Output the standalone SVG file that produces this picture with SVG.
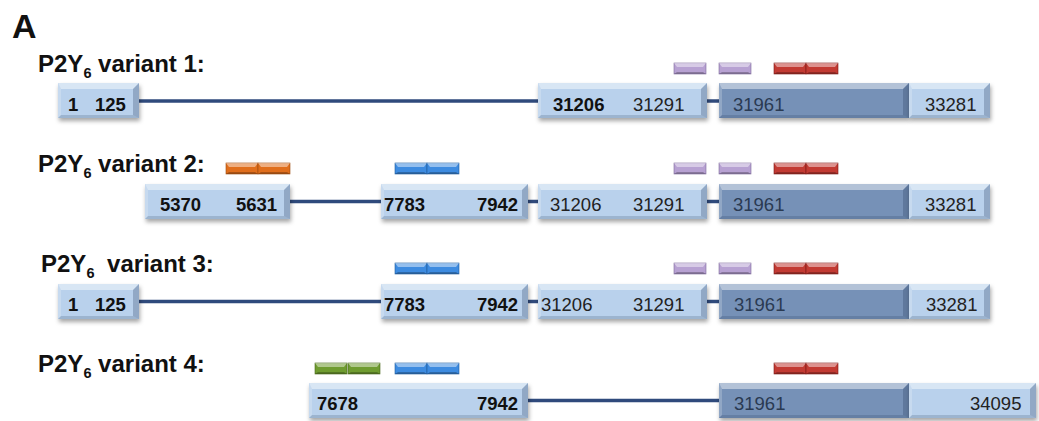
<svg xmlns="http://www.w3.org/2000/svg" xmlns:xlink="http://www.w3.org/1999/xlink" width="1039" height="421" viewBox="0 0 1039 421">
<style>
.lt{fill:#b9d1ec}
.dk{fill:#7691b7}
.bt{fill:#ffffff;fill-opacity:.45}
.bl{fill:#ffffff;fill-opacity:.2}
.br{fill:#1a3050;fill-opacity:.25}
.bb{fill:#1a3050;fill-opacity:.18}
.sh{filter:url(#shadow)}
.conn{stroke:#2f4a7c;stroke-width:3.5;fill:none}
.lab{font-family:"Liberation Sans",Arial,sans-serif;font-weight:bold;font-size:24px;fill:#111}
.sub{font-size:14.5px}
.num{font-family:"Liberation Sans",Arial,sans-serif;font-size:18.5px;fill:#222}
.bold{font-weight:bold;fill:#111}
.ondk{fill:#2a3a52}
.hl{fill:#ffffff;fill-opacity:.45}
.lo{fill:#000000;fill-opacity:.25}
.fP{fill:#b7a1d2;stroke:#7e6a99;stroke-width:.6}
.fR{fill:#c23a33;stroke:#7a1a17;stroke-width:.6}
.fO{fill:#e06e1c;stroke:#9c4a10;stroke-width:.6}
.fB{fill:#3d8be0;stroke:#1f5a99;stroke-width:.6}
.fG{fill:#6f9c30;stroke:#46661a;stroke-width:.6}
</style>
<defs>
<filter id="shadow" x="-10%" y="-30%" width="120%" height="170%">
<feDropShadow dx="1" dy="3" stdDeviation="2" flood-color="#000" flood-opacity="0.35"/>
</filter>
<g id="b81"><rect width="81" height="35" class="lt"/><polygon class="bt" points="0,0 81,0 75,6 3,6"/><polygon class="br" points="81,0 81,35 75,32 75,6"/><polygon class="bb" points="0,35 81,35 75,32 3,32"/><polygon class="bl" points="0,0 3,6 3,32 0,35"/></g>
<g id="b169"><rect width="169" height="35" class="lt"/><polygon class="bt" points="0,0 169,0 163,6 3,6"/><polygon class="br" points="169,0 169,35 163,32 163,6"/><polygon class="bb" points="0,35 169,35 163,32 3,32"/><polygon class="bl" points="0,0 3,6 3,32 0,35"/></g>
<g id="b190"><rect width="190" height="35" class="dk"/><polygon class="bt" points="0,0 190,0 184,6 3,6"/><polygon class="br" points="190,0 190,35 184,32 184,6"/><polygon class="bb" points="0,35 190,35 184,32 3,32"/><polygon class="bl" points="0,0 3,6 3,32 0,35"/></g>
<g id="b145"><rect width="145" height="35" class="lt"/><polygon class="bt" points="0,0 145,0 139,6 3,6"/><polygon class="br" points="145,0 145,35 139,32 139,6"/><polygon class="bb" points="0,35 145,35 139,32 3,32"/><polygon class="bl" points="0,0 3,6 3,32 0,35"/></g>
<g id="b147"><rect width="147" height="35" class="lt"/><polygon class="bt" points="0,0 147,0 141,6 3,6"/><polygon class="br" points="147,0 147,35 141,32 141,6"/><polygon class="bb" points="0,35 147,35 141,32 3,32"/><polygon class="bl" points="0,0 3,6 3,32 0,35"/></g>
<g id="b219"><rect width="219" height="35" class="lt"/><polygon class="bt" points="0,0 219,0 213,6 3,6"/><polygon class="br" points="219,0 219,35 213,32 213,6"/><polygon class="bb" points="0,35 219,35 213,32 3,32"/><polygon class="bl" points="0,0 3,6 3,32 0,35"/></g>
<g id="b127"><rect width="127" height="35" class="lt"/><polygon class="bt" points="0,0 127,0 121,6 3,6"/><polygon class="br" points="127,0 127,35 121,32 121,6"/><polygon class="bb" points="0,35 127,35 121,32 3,32"/><polygon class="bl" points="0,0 3,6 3,32 0,35"/></g>
<g id="barP"><rect width="32" height="11" class="fP"/><polygon class="hl" points="0,0 32,0 29,4 3,4"/><polygon class="lo" points="0,11 32,11 29,9 3,9"/></g>
<g id="barR"><rect width="32" height="11" class="fR"/><polygon class="hl" points="0,0 32,0 29,4 3,4"/><polygon class="lo" points="0,11 32,11 29,9 3,9"/></g>
<g id="barO"><rect width="32" height="11" class="fO"/><polygon class="hl" points="0,0 32,0 29,4 3,4"/><polygon class="lo" points="0,11 32,11 29,9 3,9"/></g>
<g id="barB"><rect width="32" height="11" class="fB"/><polygon class="hl" points="0,0 32,0 29,4 3,4"/><polygon class="lo" points="0,11 32,11 29,9 3,9"/></g>
<g id="barG"><rect width="32" height="11" class="fG"/><polygon class="hl" points="0,0 32,0 29,4 3,4"/><polygon class="lo" points="0,11 32,11 29,9 3,9"/></g>
</defs>
<rect width="1039" height="421" fill="#ffffff"/>
<text x="12" y="38" font-family="Liberation Sans, Arial, sans-serif" font-weight="bold" font-size="34" fill="#111">A</text>
<g id="labels">
<text class="lab" x="38" y="72">P2Y<tspan class="sub" dy="6">6</tspan><tspan dy="-6"> variant 1:</tspan></text>
<text class="lab" x="38" y="172">P2Y<tspan class="sub" dy="6">6</tspan><tspan dy="-6"> variant 2:</tspan></text>
<text class="lab" x="41" y="272">P2Y<tspan class="sub" dy="6">6</tspan><tspan dy="-6" dx="6"> variant 3:</tspan></text>
<text class="lab" x="38" y="372">P2Y<tspan class="sub" dy="6">6</tspan><tspan dy="-6"> variant 4:</tspan></text>
</g>
<g id="connectors">
<line class="conn" x1="139" y1="101" x2="538" y2="101"/>
<line class="conn" x1="707" y1="101" x2="719" y2="101"/>
<line class="conn" x1="290" y1="201.5" x2="381" y2="201.5"/>
<line class="conn" x1="528" y1="201.5" x2="538" y2="201.5"/>
<line class="conn" x1="707" y1="201.5" x2="719" y2="201.5"/>
<line class="conn" x1="139" y1="301.5" x2="381" y2="301.5"/>
<line class="conn" x1="528" y1="301.5" x2="538" y2="301.5"/>
<line class="conn" x1="707" y1="301.5" x2="719" y2="301.5"/>
<line class="conn" x1="528" y1="400.5" x2="719" y2="400.5"/>
</g>
<g id="bars">
<use href="#barP" x="674" y="63"/><use href="#barP" x="719" y="63"/><use href="#barR" x="774" y="63"/><use href="#barR" x="806" y="63"/>
<use href="#barO" x="226" y="163"/><use href="#barO" x="258" y="163"/><use href="#barB" x="395" y="163"/><use href="#barB" x="427" y="163"/>
<use href="#barP" x="674" y="163"/><use href="#barP" x="719" y="163"/><use href="#barR" x="774" y="163"/><use href="#barR" x="806" y="163"/>
<use href="#barB" x="395" y="263"/><use href="#barB" x="427" y="263"/>
<use href="#barP" x="674" y="263"/><use href="#barP" x="719" y="263"/><use href="#barR" x="774" y="263"/><use href="#barR" x="806" y="263"/>
<use href="#barG" x="315" y="363"/><use href="#barG" x="348" y="363"/><use href="#barB" x="395" y="363"/><use href="#barB" x="427" y="363"/>
<use href="#barR" x="774" y="363"/><use href="#barR" x="806" y="363"/>
</g>
<g id="v1-e1"><use class="sh" href="#b81" x="58" y="83"/><text class="num bold" x="68" y="111">1</text><text class="num bold" x="95" y="111">125</text></g>
<g id="v1-e2"><use class="sh" href="#b169" x="538" y="83"/><text class="num bold" x="553" y="111">31206</text><text class="num" x="633" y="111">31291</text></g>
<g id="v1-e3"><use class="sh" href="#b190" x="719" y="83"/><text class="num ondk" x="733" y="111">31961</text></g>
<g id="v1-e4"><use class="sh" href="#b81" x="909" y="83"/><text class="num" x="925" y="111">33281</text></g>
<g id="v2-e1"><use class="sh" href="#b145" x="145" y="184"/><text class="num bold" x="160" y="211">5370</text><text class="num bold" x="236" y="211">5631</text></g>
<g id="v2-e2"><use class="sh" href="#b147" x="381" y="184"/><text class="num bold" x="384" y="211">7783</text><text class="num bold" x="477" y="211">7942</text></g>
<g id="v2-e3"><use class="sh" href="#b169" x="538" y="184"/><text class="num" x="550" y="211">31206</text><text class="num" x="633" y="211">31291</text></g>
<g id="v2-e4"><use class="sh" href="#b190" x="719" y="184"/><text class="num ondk" x="733" y="211">31961</text></g>
<g id="v2-e5"><use class="sh" href="#b81" x="909" y="184"/><text class="num" x="925" y="211">33281</text></g>
<g id="v3-e1"><use class="sh" href="#b81" x="58" y="284"/><text class="num bold" x="68" y="311">1</text><text class="num bold" x="95" y="311">125</text></g>
<g id="v3-e2"><use class="sh" href="#b147" x="381" y="284"/><text class="num bold" x="384" y="311">7783</text><text class="num bold" x="477" y="311">7942</text></g>
<g id="v3-e3"><use class="sh" href="#b169" x="538" y="284"/><text class="num" x="541" y="311">31206</text><text class="num" x="633" y="311">31291</text></g>
<g id="v3-e4"><use class="sh" href="#b190" x="719" y="284"/><text class="num ondk" x="734" y="311">31961</text></g>
<g id="v3-e5"><use class="sh" href="#b81" x="909" y="284"/><text class="num" x="926" y="311">33281</text></g>
<g id="v4-e1"><use class="sh" href="#b219" x="309" y="383"/><text class="num bold" x="317" y="410">7678</text><text class="num bold" x="477" y="410">7942</text></g>
<g id="v4-e2"><use class="sh" href="#b190" x="719" y="383"/><text class="num ondk" x="734" y="410">31961</text></g>
<g id="v4-e3"><use class="sh" href="#b127" x="909" y="383"/><text class="num" x="970" y="410">34095</text></g>
</svg>
